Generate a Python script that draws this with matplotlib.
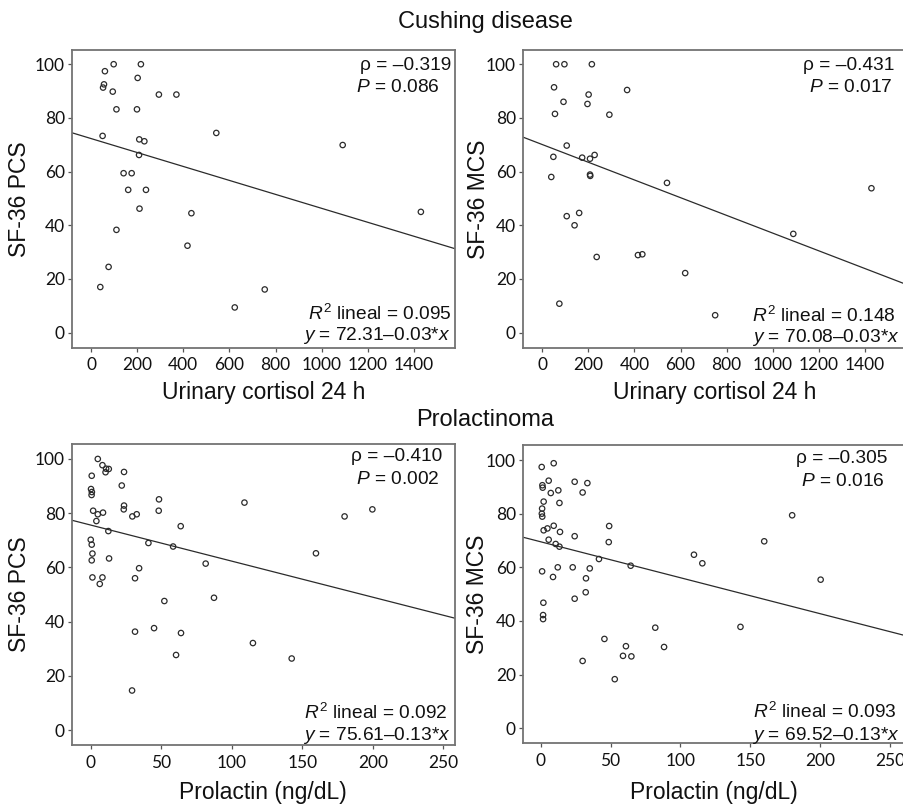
import matplotlib
matplotlib.use("Agg")
import matplotlib.pyplot as plt
import numpy as np

plt.rcParams["mathtext.fontset"] = "custom"
plt.rcParams["mathtext.rm"] = "Liberation Sans"
plt.rcParams["mathtext.it"] = "Liberation Sans:italic"
plt.rcParams["font.family"] = ["Liberation Sans", "DejaVu Sans"]

# ---- Cushing disease: urinary cortisol 24 h vs SF-36 scores ----
cush_pcs_x = [60, 98, 216, 56, 52, 94, 202, 294, 370, 110, 199, 50, 543, 209, 231,
              208, 141, 176, 161, 238, 210, 435, 1430, 1091, 110, 418, 76, 40, 753, 623]
cush_pcs_y = [97.4, 100, 100, 92.5, 91.3, 89.8, 94.9, 88.7, 88.7, 83.2, 83.2, 73.3, 74.4, 72.0, 71.3,
              66.2, 59.4, 59.4, 53.2, 53.2, 46.2, 44.5, 45.0, 69.9, 38.3, 32.4, 24.5, 17.0, 16.1, 9.4]

cush_mcs_x = [60, 96, 215, 51, 368, 201, 92, 196, 55, 291, 106, 48, 173, 207, 227,
              39, 207, 208, 541, 1428, 160, 106, 140, 1089, 236, 415, 434, 620, 74, 750]
cush_mcs_y = [100, 100, 100, 91.4, 90.4, 88.7, 86.0, 85.2, 81.5, 81.2, 69.7, 65.5, 65.2, 64.8, 66.2,
              58.0, 58.9, 58.4, 55.8, 53.8, 44.6, 43.4, 40.0, 36.8, 28.2, 28.9, 29.2, 22.2, 10.8, 6.5]

# ---- Prolactinoma: prolactin vs SF-36 scores ----
prl_pcs_x = [5, 8.3, 10.9, 12.8, 10.5, 23.6, 0.7, 22, 0.2, 0.8, 0.6, 48.4, 109, 23.6, 23.4,
             199.7, 1.7, 5, 8.7, 48.2, 29.5, 32.6, 180, 4, 63.8, 12.5, 0, 0.7, 40.9, 58.4,
             1.2, 0.7, 159.7, 13, 81.5, 34.3, 1.2, 8.3, 31.4, 6.4, 87.4, 52.2, 44.9, 31.4, 64,
             115, 60.5, 142.5, 29.3]
prl_pcs_y = [100, 97.7, 96.4, 96.3, 95.1, 95.2, 93.8, 90.2, 88.9, 87.8, 86.7, 85.1, 83.9, 82.8, 81.4,
             81.4, 80.9, 79.6, 80.2, 80.9, 78.8, 79.6, 78.8, 77.1, 75.2, 73.4, 70.2, 68.4, 69.0, 67.7,
             65.1, 62.6, 65.2, 63.3, 61.4, 59.7, 56.3, 56.3, 56.0, 53.9, 48.8, 47.6, 37.6, 36.3, 35.8,
             32.1, 27.7, 26.4, 14.6]

prl_mcs_x = [0.7, 9.3, 5.7, 1.2, 1.4, 24.3, 33.4, 7.2, 12.6, 30, 2.1, 13.4, 1, 0.8, 1.1,
             180, 49, 9.3, 4.8, 2.1, 13.8, 24.3, 5.7, 48.7, 160, 10.7, 13.4, 109.7, 41.7, 115.7,
             64.4, 12.2, 22.9, 35.1, 1, 8.8, 32.4, 200.4, 32.2, 24.3, 1.9, 1.7, 1.7, 82, 143,
             45.6, 61, 88.3, 58.9, 64.9, 30, 53]
prl_mcs_y = [97.4, 98.8, 92.3, 90.6, 89.7, 91.9, 91.4, 87.7, 88.7, 87.9, 84.5, 84.0, 81.9, 80.0, 78.9,
             79.4, 75.4, 75.5, 74.5, 73.8, 73.2, 71.6, 70.3, 69.4, 69.7, 68.7, 67.7, 64.7, 63.1, 61.5,
             60.6, 60.0, 60.0, 59.6, 58.5, 56.4, 55.9, 55.4, 50.7, 48.3, 46.8, 42.2, 40.7, 37.5, 37.8,
             33.3, 30.6, 30.3, 27.0, 26.8, 25.1, 18.3]

# Spearman / regression summaries per panel
rho_vals = [-0.319, -0.431, -0.410, -0.305]
p_vals = [0.086, 0.017, 0.002, 0.016]
r2_vals = [0.095, 0.148, 0.092, 0.093]
intercepts = [72.31, 70.08, 75.61, 69.52]
slopes = [-0.026, -0.033, -0.133, -0.134]

y_labels = ["SF-36 PCS", "SF-36 MCS", "SF-36 PCS", "SF-36 MCS"]
top_xlabel = "Urinary cortisol 24 h"
bottom_xlabel = "Prolactin (ng/dL)"
group_titles = ["Cushing disease", "Prolactinoma"]
cort_ticks = [0, 200, 400, 600, 800, 1000, 1200, 1400]
prl_ticks = [0, 50, 100, 150, 200, 250]
score_ticks = [0, 20, 40, 60, 80, 100]

W, H = 904, 808
fig = plt.figure(figsize=(W / 100, H / 100), dpi=100)
fig.patch.set_facecolor("white")


def add_axes_px(left, top, right, bottom):
    return fig.add_axes([left / W, 1 - bottom / H, (right - left) / W, (bottom - top) / H])


def ftext(x, y, s, **kw):
    return fig.text(x / W, 1 - y / H, s, **kw)


# panel boxes (left, top, right, bottom) and annotation anchors in pixels
panels = [
    dict(box=(71.7, 50, 455, 347.7), x=cush_pcs_x, y=cush_pcs_y, xlim=(-84, 1578), ylim=(-5.6, 105.3),
         xticks=cort_ticks, ylab_x=20, xlab_y=393,
         rho=(451.5, 66), pv=(440, 88), r2=(451.5, 314), eq=(450, 336)),
    dict(box=(522.7, 50, 906, 347.7), x=cush_mcs_x, y=cush_mcs_y, xlim=(-85, 1578), ylim=(-5.6, 105.3),
         xticks=cort_ticks, ylab_x=479, xlab_y=393,
         rho=(894, 66), pv=(893, 88), r2=(896, 316), eq=(900, 338)),
    dict(box=(71.7, 444.3, 455, 745), x=prl_pcs_x, y=prl_pcs_y, xlim=(-13.5, 258.3), ylim=(-5.5, 105.4),
         xticks=prl_ticks, ylab_x=20, xlab_y=793,
         rho=(442.7, 457), pv=(440, 479), r2=(448, 713), eq=(450.5, 735)),
    dict(box=(522.7, 445, 906, 743.3), x=prl_mcs_x, y=prl_mcs_y, xlim=(-12.9, 261.5), ylim=(-5.6, 105.6),
         xticks=prl_ticks, ylab_x=478, xlab_y=793,
         rho=(887, 459), pv=(885, 481), r2=(896.5, 712), eq=(900, 735)),
]

frame_col = "#737373"
ink = "#2b2b2b"
txt_col = "#111111"
ann_size = 13.8

for i, p in enumerate(panels):
    l, t, r, b = p["box"]
    ax = add_axes_px(l, t, r, b)
    ax.set_xlim(*p["xlim"])
    ax.set_ylim(*p["ylim"])
    ax.scatter(p["x"], p["y"], s=15, facecolors="none", edgecolors=ink, linewidths=0.9, zorder=3)
    xs = np.array(p["xlim"])
    ax.plot(xs, intercepts[i] + slopes[i] * xs, color=ink, lw=0.9, zorder=2)

    ax.set_xticks(p["xticks"])
    ax.set_yticks(score_ticks)
    ax.tick_params(direction="out", length=3, width=0.9, color="#555555", labelcolor=txt_col)
    ax.tick_params(axis="x", pad=4)
    ax.tick_params(axis="y", pad=2)
    for lab in ax.get_xticklabels() + ax.get_yticklabels():
        lab.set_fontfamily("Lato")
        lab.set_fontsize(12.5)
    for sp in ax.spines.values():
        sp.set_color(frame_col)
        sp.set_linewidth(1.3)

    sign = "–" if slopes[i] < 0 else "+"
    rsign = "–" if rho_vals[i] < 0 else ""
    ftext(*p["rho"], f"ρ = {rsign}{abs(rho_vals[i]):.3f}", ha="right", va="center",
          fontsize=ann_size, color=txt_col)
    ftext(*p["pv"], f"$P$ = {p_vals[i]:.3f}", ha="right", va="center",
          fontsize=ann_size, color=txt_col)
    ftext(*p["r2"], r"$R^{\mathrm{2}}$" + f" lineal = {r2_vals[i]:.3f}", ha="right", va="center",
          fontsize=ann_size, color=txt_col)
    ftext(*p["eq"], f"$y$ = {intercepts[i]:.2f}{sign}{abs(slopes[i]):.2f}*$x$", ha="right", va="center",
          fontsize=ann_size, color=txt_col)

    # axis labels
    ftext(p["ylab_x"], (t + b) / 2, y_labels[i], rotation=90,
          ha="center", va="center", fontsize=16.5, color=txt_col)
    xl = top_xlabel if i < 2 else bottom_xlabel
    ftext((l + min(r, 906)) / 2, p["xlab_y"], xl, ha="center", va="center",
          fontsize=16.5, color=txt_col)

ftext(485, 22, group_titles[0], ha="center", va="center", fontsize=17, color=txt_col)
ftext(485, 420, group_titles[1], ha="center", va="center", fontsize=17, color=txt_col)

fig.savefig("out.png", dpi=100, facecolor="white")
